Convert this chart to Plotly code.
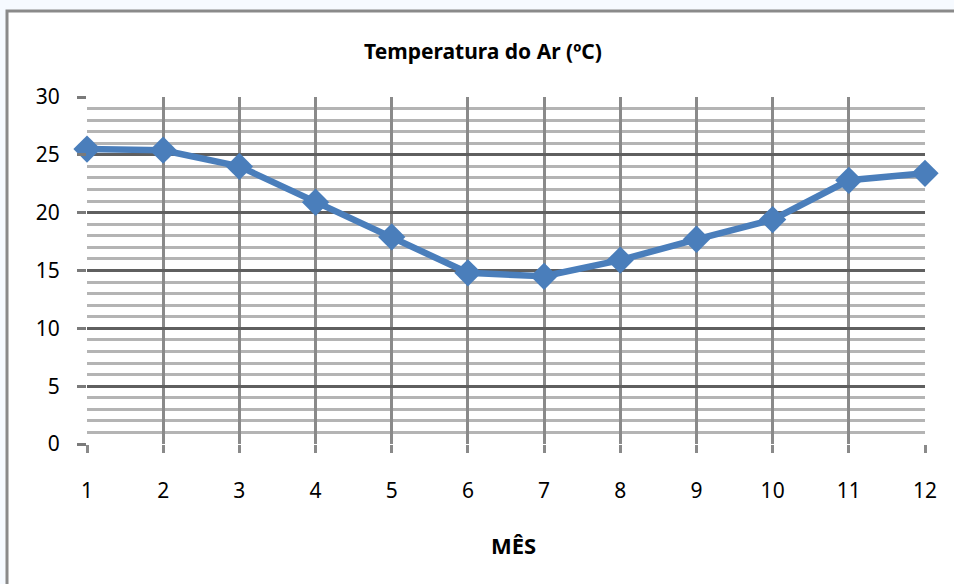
import plotly.graph_objects as go

# Monthly mean air temperature
meses = [1, 2, 3, 4, 5, 6, 7, 8, 9, 10, 11, 12]
temperatura = [25.5, 25.4, 24.0, 20.9, 17.9, 14.8, 14.5, 15.9, 17.7, 19.4, 22.8, 23.4]
y_ticks = [0, 5, 10, 15, 20, 25, 30]

W, H = 954, 584
L, R, T, B = 87, 29, 97, 140
pw, ph = W - L - R, H - T - B


def px_x(p):
    return (p - L) / pw


def px_y(p):
    return (H - B - p) / ph


fig = go.Figure()
fig.add_trace(go.Scatter(
    x=meses, y=temperatura, mode="lines+markers",
    line=dict(color="#4a7ebb", width=6.5),
    marker=dict(symbol="diamond", size=21, color="#4a7ebb"),
    cliponaxis=False, showlegend=False,
))

font_family = "Noto Sans, Open Sans, sans-serif"

fig.update_layout(
    width=W, height=H,
    margin=dict(l=L, r=R, t=T, b=B),
    paper_bgcolor="#f6faff",
    plot_bgcolor="rgba(0,0,0,0)",
    font=dict(family=font_family, color="#000000"),
    title=dict(
        text="<b>Temperatura do Ar (ºC)</b>",
        x=483 / W, xanchor="center", xref="container",
        y=1 - 52 / H, yanchor="middle", yref="container",
        font=dict(size=21, family=font_family, color="#000000"),
    ),
    xaxis=dict(
        range=[1, 12], tickvals=meses, ticktext=[str(m) for m in meses],
        showgrid=True, gridcolor="#8a8a8a", gridwidth=3,
        zeroline=False, showline=False,
        ticks="outside", ticklen=8, tickwidth=3, tickcolor="#8a8a8a",
        ticklabelstandoff=20,
        tickfont=dict(size=21, family=font_family),
    ),
    yaxis=dict(
        range=[0, 30], tickvals=y_ticks,
        showgrid=True, gridcolor="#5f5f5f", gridwidth=3,
        zeroline=False, showline=False,
        ticks="outside", ticklen=9, tickwidth=3, tickcolor="#7a7a7a",
        ticklabelstandoff=13,
        tickfont=dict(size=21, family=font_family),
        minor=dict(dtick=1, showgrid=True, gridcolor="#b4b4b4", gridwidth=3,
                   ticks=""),
    ),
    shapes=[dict(
        type="rect", xref="paper", yref="paper", layer="below",
        x0=px_x(7), x1=px_x(W + 10), y0=px_y(H + 10), y1=px_y(11),
        fillcolor="#ffffff", line=dict(color="#8a8a8a", width=3),
    )],
    annotations=[dict(
        text="<b>MÊS</b>", xref="paper", yref="paper",
        x=px_x(513), y=px_y(545), xanchor="center", yanchor="middle",
        showarrow=False, font=dict(size=22, family=font_family, color="#000000"),
    )],
)

fig.write_html("out.html")
